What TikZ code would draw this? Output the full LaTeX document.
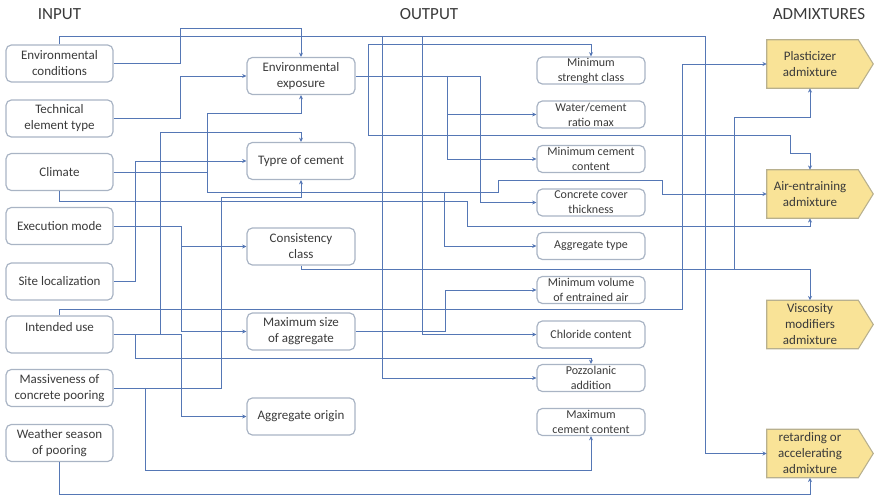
\documentclass[tikz,border=0pt]{standalone}
\usepackage{fontspec}
\setmainfont{Carlito}
\usetikzlibrary{arrows.meta,backgrounds}
\definecolor{linec}{HTML}{5577B5}
\definecolor{boxc}{HTML}{A9B4C4}
\definecolor{txtc}{HTML}{3A3A3A}
\definecolor{admfill}{HTML}{F9E397}
\definecolor{admdraw}{HTML}{B8B08E}
\begin{document}
\begin{tikzpicture}[x=0.75pt,y=-0.75pt,
  base/.style={rounded corners=4pt, draw=boxc, line width=0.9pt, align=center, text=txtc, inner sep=1pt},
  inbox/.style={base, minimum width=80.25pt, minimum height=27.75pt, font=\fontsize{9.75}{12}\selectfont},
  midbox/.style={base, minimum width=81pt, minimum height=27.75pt, font=\fontsize{9.75}{12}\selectfont},
  outbox/.style={base, inner ysep=0pt, minimum width=81pt, minimum height=20.25pt, font=\fontsize{9}{11.25}\selectfont},
  admbox/.style={minimum width=64.5pt, minimum height=36pt, align=center, text=txtc, inner sep=1pt, font=\fontsize{9.75}{12}\selectfont},
  admshape/.style={fill=admfill, draw=admdraw, line width=0.8pt},
  head/.style={text=txtc, font=\fontsize{12.75}{14}\selectfont},
  conn/.style={draw=linec, line width=0.6pt, -{Stealth[length=3.2pt,width=3pt]}}
]
\useasboundingbox (0,0) rectangle (874,498);
% headers
\node[head] (hin) at (59.5,14) {INPUT};
\node[head] (hout) at (429,14) {OUTPUT};
\node[head] (had) at (819,14) {ADMIXTURES};
% input column
\node[inbox] (ec) at (59.5,63.5) {Environmental\\conditions};
\node[inbox] (te) at (59.5,118.5) {Technical\\element type};
\node[inbox] (cl) at (59.5,172) {Climate};
\node[inbox] (em) at (59.5,226) {Execution mode};
\node[inbox] (sl) at (59.5,281.5) {Site localization};
\node[inbox] (iu) at (59.5,334.5) {Intended use\\~};
\node[inbox] (mc) at (59.5,388) {Massiveness of\\concrete pooring};
\node[inbox] (ws) at (59.5,443) {Weather season\\of pooring};
% middle column
\node[midbox] (ee) at (301,76) {Environmental\\exposure};
\node[midbox] (tc) at (301,161) {Typre of cement};
\node[midbox] (cc) at (301,246.5) {Consistency\\class};
\node[midbox] (ms) at (301,331.5) {Maximum size\\of aggregate};
\node[midbox] (ao) at (301,416.5) {Aggregate origin};
% output column
\node[outbox] (o1) at (591,70.5) {Minimum\\strenght class};
\node[outbox] (o2) at (591,114.5) {Water/cement\\ratio max};
\node[outbox] (o3) at (591,159) {Minimum cement\\content};
\node[outbox] (o4) at (591,202.5) {Concrete cover\\thickness};
\node[outbox] (o5) at (591,246) {Aggregate type};
\node[outbox] (o6) at (591,290) {Minimum volume\\of entrained air};
\node[outbox] (o7) at (591,334.5) {Chloride content};
\node[outbox] (o8) at (591,378) {Pozzolanic\\addition};
\node[outbox] (o9) at (591,422) {Maximum\\cement content};
% admixtures
\node[admbox] (pl) at (810,64) {Plasticizer\\admixture};
\node[admbox] (ae) at (810,194) {Air-entraining\\admixture};
\node[admbox] (vm) at (810,324.5) {Viscosity\\modifiers\\admixture};
\node[admbox] (ra) at (810,453.5) {retarding or\\accelerating\\admixture};
\begin{scope}[on background layer]
\foreach \n in {pl,ae,vm,ra}
  \draw[admshape] (\n.north west) -- ([xshift=3.75pt]\n.north east) -- ([xshift=15pt]\n.east) -- ([xshift=3.75pt]\n.south east) -- (\n.south west) -- cycle;
\end{scope}
% junction coordinates
\coordinate (j382) at (382,36);
\coordinate (j422) at (422,36);
\coordinate (j444) at (444,192);
\coordinate (j447) at (447,76);
\coordinate (j368) at (368,76);
\coordinate (j135) at (135,334.5);
\coordinate (j181) at (181,246.5);
\coordinate (j145) at (145,388);
\coordinate (j734) at (734,269);
% connectors
\draw[conn] (ec.east) -| (180,28) -| (ee.north);
\draw[conn] (te.east) -| (180,76) -- (ee.west);
\draw[conn] (ec.north) |- (705,36) |- (ra.west);
\draw[conn] (j382) |- (o8.west);
\draw[conn] (j422) |- (o7.west);
\draw[conn] (cl.east) -| (207,113) -| (ee.south);
\draw[conn] (cl.east) -| (207,192) -| (498,180) -| (662,194) -- (ae.west);
\draw[conn] (j444) |- (o5.west);
\draw[conn] (cl.south) |- (467,201) |- (810,226) -- (ae.south);
\draw[conn] (ee.east) -| (480,202.5) -- (o4.west);
\draw[conn] (j447) |- (o2.west);
\draw[conn] (j447) |- (o3.west);
\draw[conn] (j368) |- (591,44) -- (o1.north);
\draw[conn] (j368) |- (790,135) |- (810,153) -- (ae.north);
\draw[conn] (iu.east) -| (160,132) -| (tc.north);
\draw[conn] (iu.east) -| (181,416.5) -- (ao.west);
\draw[conn] (j135) |- (591,358) -- (o8.north);
\draw[conn] (sl.east) -| (135,161) -- (tc.west);
\draw[conn] (iu.north) |- (682,309) |- (pl.west);
\draw[conn] (em.east) -| (181,246.5) -- (cc.west);
\draw[conn] (j181) |- (ms.west);
\draw[conn] (mc.east) -| (221,197) -| (tc.south);
\draw[conn] (j145) |- (591,470) -- (o9.south);
\draw[conn] (ws.south) |- (810,494) -- (ra.south);
\draw[conn] (cc.south) |- (810,269) -- (vm.north);
\draw[conn] (j734) |- (810,117) -- (pl.south);
\draw[conn] (ms.east) -| (445,290) -- (o6.west);
\end{tikzpicture}
\end{document}
